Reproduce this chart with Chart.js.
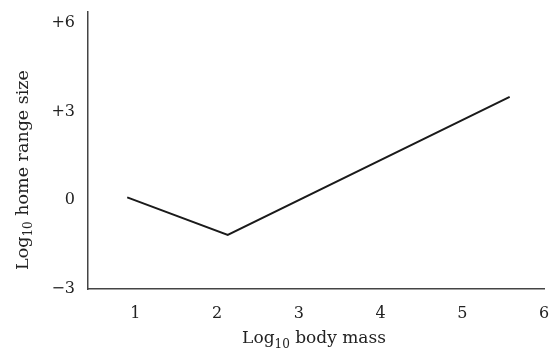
<!DOCTYPE html>
<html>
<head>
<meta charset="utf-8">
<script src="https://cdn.jsdelivr.net/npm/chart.js@4/dist/chart.umd.min.js"></script>
<style>
  html, body { margin: 0; padding: 0; background: #fff; }
  #wrap { width: 549px; height: 352px; position: relative; }
</style>
</head>
<body>
<div id="wrap"><canvas id="chart"></canvas></div>
<script>
// data
const bodyMass = [0.9, 2.13, 5.58];
const homeRange = [0.1, -1.17, 3.5];
const xTicks = [1, 2, 3, 4, 5, 6];
const yTicks = [-3, 0, 3, 6];

const FONT = "'DejaVu Serif', 'Liberation Serif', serif";
const INK = "#222";

// axis titles with a real subscript "10"
function drawSubTitle(ctx, x, y, parts, size) {
  const big = size + "px " + FONT, small = Math.round(size * 0.7) + "px " + FONT;
  ctx.font = big; const w0 = ctx.measureText(parts[0]).width;
  ctx.font = small; const w1 = ctx.measureText(parts[1]).width;
  ctx.font = big; const w2 = ctx.measureText(parts[2]).width;
  let cx = x - (w0 + w1 + w2) / 2;
  ctx.textBaseline = "middle";
  ctx.textAlign = "left";
  ctx.fillStyle = INK;
  ctx.font = big; ctx.fillText(parts[0], cx, y); cx += w0;
  ctx.font = small; ctx.fillText(parts[1], cx, y + 6); cx += w1;
  ctx.font = big; ctx.fillText(parts[2], cx, y);
}

const titles = {
  id: "titles",
  afterDraw(chart) {
    const ctx = chart.ctx;
    ctx.save();
    drawSubTitle(ctx, 314, 339, ["Log", "10", " body mass"], 17);
    ctx.translate(23, 170);
    ctx.rotate(-Math.PI / 2);
    drawSubTitle(ctx, 0, 0, ["Log", "10", " home range size"], 17.5);
    ctx.restore();
  }
};

new Chart(document.getElementById("chart"), {
  type: "line",
  data: {
    datasets: [{
      data: bodyMass.map((x, i) => ({ x, y: homeRange[i] })),
      borderColor: "#1a1a1a",
      borderWidth: 2,
      pointRadius: 0,
      tension: 0,
      fill: false,
    }],
  },
  options: {
    responsive: true, maintainAspectRatio: false, animation: false,
    layout: { padding: { left: 0, top: 12, right: 5, bottom: 0 } },
    plugins: { legend: { display: false }, tooltip: { enabled: false } },
    scales: {
      x: {
        type: "linear", min: 0.42, max: 6,
        afterBuildTicks: s => { s.ticks = xTicks.map(v => ({ value: v })); },
        afterFit: s => { s.height = 63; s.paddingLeft = 0; s.paddingRight = 0; },
        grid: { display: false, drawTicks: false },
        border: { display: true, color: "#444", width: 1.5 },
        ticks: { color: INK, padding: 15, maxRotation: 0, font: { family: FONT, size: 16 } },
      },
      y: {
        type: "linear", min: -3, max: 6.37,
        afterBuildTicks: s => { s.ticks = yTicks.map(v => ({ value: v })); },
        afterFit: s => { s.width = 88; s.paddingTop = 0; s.paddingBottom = 0; },
        grid: { display: false, drawTicks: false },
        border: { display: true, color: "#444", width: 1.5 },
        ticks: {
          color: INK, padding: 13, font: { family: FONT, size: 16 },
          callback: v => v > 0 ? "+" + v : (v < 0 ? "\u2212" + Math.abs(v) : "" + v),
        },
      },
    },
  },
  plugins: [titles],
});
</script>
</body>
</html>
